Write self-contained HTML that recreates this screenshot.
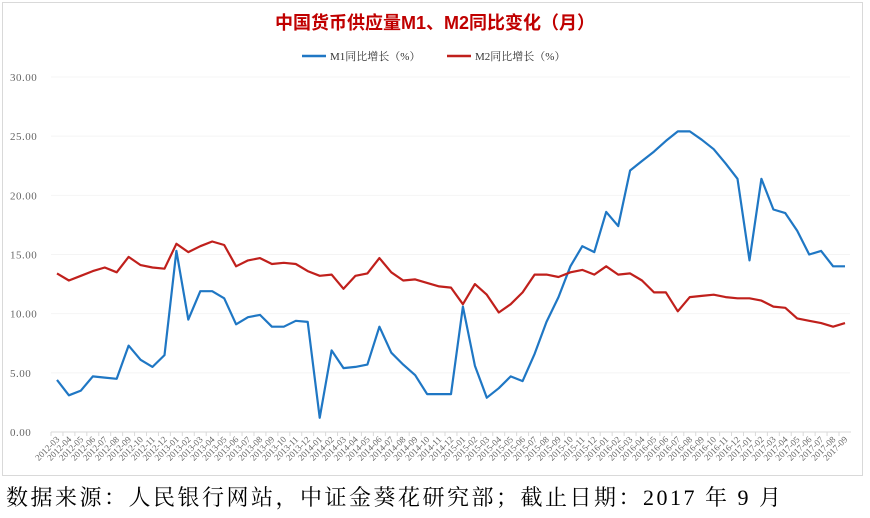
<!DOCTYPE html>
<html><head><meta charset="utf-8"><style>
body{margin:0;background:#fff;width:870px;height:513px;overflow:hidden}
svg text{font-family:"Liberation Serif","Noto Serif CJK SC",serif}
</style></head><body>
<svg id="s" width="870" height="513" xmlns="http://www.w3.org/2000/svg">
<rect x="2.5" y="2.5" width="860" height="473" fill="#fff" stroke="#d9d9d9"/>
<text x="435" y="29" text-anchor="middle" font-size="18" font-weight="bold" fill="#c00000" style="font-family:'Liberation Sans','Noto Sans CJK SC',sans-serif">中国货币供应量M1、M2同比变化（月）</text>
<line x1="302" y1="56" x2="326" y2="56" stroke="#1f77c4" stroke-width="2.5"/>
<text x="330" y="60" font-size="11" fill="#333">M1同比增长（%）</text>
<line x1="447" y1="56" x2="471" y2="56" stroke="#c0201c" stroke-width="2.5"/>
<text x="475" y="60" font-size="11" fill="#333">M2同比增长（%）</text>
<g id="ax" font-size="11" fill="#666"></g>
<text x="6" y="505" font-size="22" fill="#000" letter-spacing="2.5">数据来源：人民银行网站，中证金葵花研究部；截止日期：2017 年 9 月</text>
</svg>
<script>
var m1=[4.4,3.1,3.5,4.7,4.6,4.5,7.3,6.1,5.5,6.5,15.3,9.5,11.9,11.9,11.3,9.1,9.7,9.9,8.9,8.9,9.4,9.3,1.2,6.9,5.4,5.5,5.7,8.9,6.7,5.7,4.8,3.2,3.2,3.2,10.6,5.6,2.9,3.7,4.7,4.3,6.6,9.3,11.4,14.0,15.7,15.2,18.6,17.4,22.1,22.9,23.7,24.6,25.4,25.4,24.7,23.9,22.7,21.4,14.5,21.4,18.8,18.5,17.0,15.0,15.3,14.0,14.0];
var m2=[13.4,12.8,13.2,13.6,13.9,13.5,14.8,14.1,13.9,13.8,15.9,15.2,15.7,16.1,15.8,14.0,14.5,14.7,14.2,14.3,14.2,13.6,13.2,13.3,12.1,13.2,13.4,14.7,13.5,12.8,12.9,12.6,12.3,12.2,10.8,12.5,11.6,10.1,10.8,11.8,13.3,13.3,13.1,13.5,13.7,13.3,14.0,13.3,13.4,12.8,11.8,11.8,10.2,11.4,11.5,11.6,11.4,11.3,11.3,11.1,10.6,10.5,9.6,9.4,9.2,8.9,9.2];
var NS="http://www.w3.org/2000/svg",s=document.getElementById('s'),ax=document.getElementById('ax');
function X(i){return 57+i*788/66}function Y(v){return 432-v*355/30}
function el(t,a,p){var e=document.createElementNS(NS,t);for(var k in a)e.setAttribute(k,a[k]);(p||s).appendChild(e);return e}
for(var v=0;v<=30;v+=5){var t=el('text',{x:10,y:Y(v)+4,'font-size':11,'letter-spacing':0.5},ax);t.textContent=v.toFixed(2);
 if(v>0)el('line',{x1:51,x2:850,y1:Y(v),y2:Y(v),stroke:'#f4f4f4'});}
el('line',{x1:51,x2:851,y1:432,y2:432,stroke:'#d9d9d9'});
for(var i=0;i<67;i++){var yr=2012+Math.floor((i+2)/12),mo=(i+2)%12+1;var x=X(i);
 el('line',{x1:x-6,x2:x-6,y1:432,y2:436,stroke:'#d9d9d9'});
 var t=el('text',{x:x+3,y:440,'font-size':9,'text-anchor':'end',transform:'rotate(-45 '+(x+3)+' 440)'},ax);
 t.textContent=yr+'-'+(mo<10?'0':'')+mo;}
function line(d,c){el('polyline',{points:d.map(function(v,i){return X(i).toFixed(1)+','+Y(v).toFixed(1)}).join(' '),fill:'none',stroke:c,'stroke-width':2.2,'stroke-linejoin':'round'})}
line(m1,'#1f77c4');line(m2,'#c0201c');
</script>
</body></html>
